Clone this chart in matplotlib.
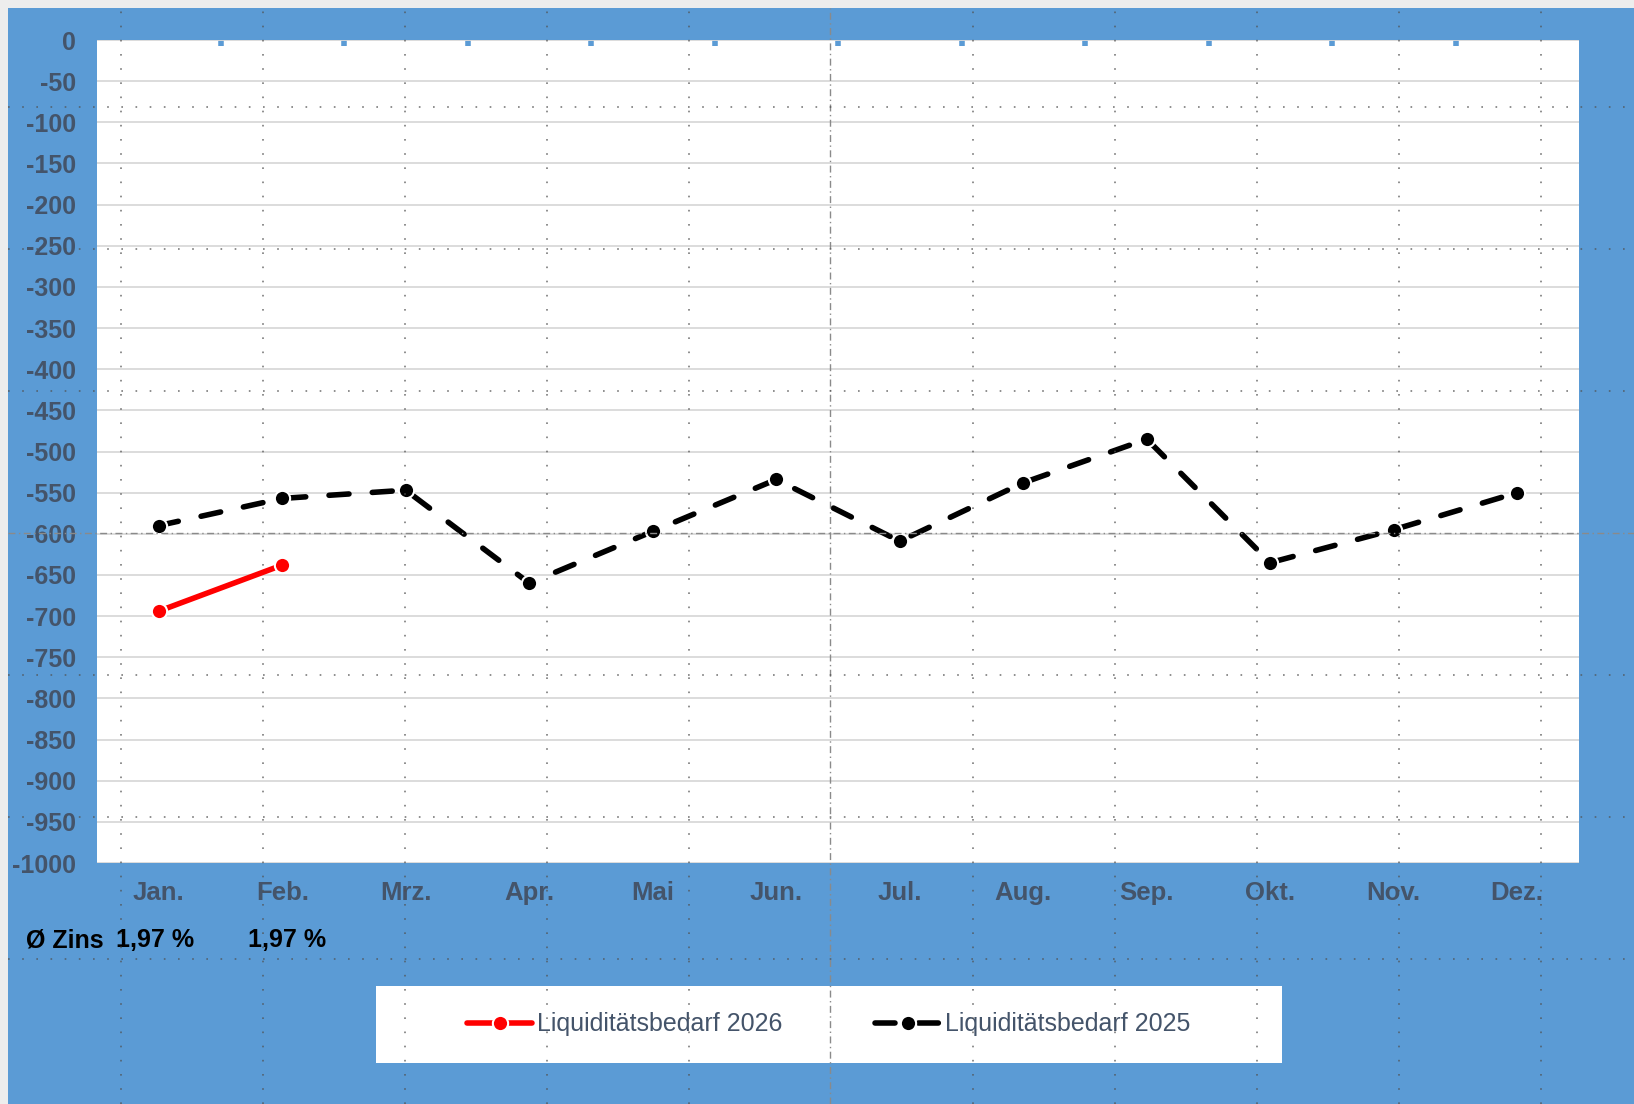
import matplotlib
matplotlib.use("Agg")
import matplotlib.pyplot as plt
from matplotlib.lines import Line2D
from matplotlib.patches import Rectangle
from matplotlib.transforms import blended_transform_factory
import numpy as np

# ---- data ----
months = ["Jan.", "Feb.", "Mrz.", "Apr.", "Mai", "Jun.", "Jul.", "Aug.", "Sep.", "Okt.", "Nov.", "Dez."]
liq_2025 = [-590, -557, -547, -660, -597, -534, -609, -538, -485, -635, -595, -550]
liq_2026 = [-694, -638]
zins_labels = ["1,97 %", "1,97 %"]
y_ticks = list(range(0, -1001, -50))

plt.rcParams["font.family"] = ["Liberation Sans", "DejaVu Sans"]

W, H = 1634, 1104
fig = plt.figure(figsize=(W / 100, H / 100), dpi=100)
fig.patch.set_facecolor("#ededed")


def fx(px):
    return px / W


def fy(py):
    return 1 - py / H


BLUE = "#5b9bd5"
TXT = "#44546a"

fig.add_artist(Rectangle((fx(8), 0), 1 - fx(8), fy(8), transform=fig.transFigure,
                         facecolor=BLUE, edgecolor="none", zorder=-10))

ax = fig.add_axes([fx(97), fy(863), fx(1579) - fx(97), (863 - 40) / H])
ax.set_facecolor("white")
x = np.arange(len(months))

l25, = ax.plot(x, liq_2025, color="black", lw=4.0, dashes=(3.6, 4.2), dash_capstyle="round",
               marker="o", ms=11, mfc="black", mec="white", mew=1.5, zorder=3,
               label="Liquiditätsbedarf 2025")
l26, = ax.plot(x[:len(liq_2026)], liq_2026, color="#ff0000", lw=4.0, solid_capstyle="round",
               marker="o", ms=11, mfc="#ff0000", mec="white", mew=1.5, zorder=4,
               label="Liquiditätsbedarf 2026")

ax.set_xlim(-0.5, len(months) - 0.5)
ax.set_ylim(-1000, 0)
ax.set_yticks(y_ticks)
ax.set_yticklabels([str(v) for v in y_ticks])
ax.tick_params(axis="y", length=0, pad=15, labelsize=18, labelcolor=TXT)
ax.set_xticks(x, months)
ax.tick_params(axis="x", which="major", length=0, pad=13, labelsize=18.5, labelcolor=TXT)
for lbl in ax.get_yticklabels() + ax.get_xticklabels():
    lbl.set_fontweight("bold")
ax.set_xticks(np.arange(0.5, len(months) - 1, 1.0), minor=True)
ax.tick_params(axis="x", which="minor", bottom=False, top=True, direction="in",
               length=4, width=4, color=BLUE)
ax.yaxis.grid(True, color="#d9d9d9", lw=1.3)
ax.set_axisbelow(True)
for s in ax.spines.values():
    s.set_visible(False)

# average interest row
fig.text(fx(26), fy(940), "Ø Zins", fontsize=18, fontweight="bold", color="black",
         ha="left", va="center")
bt = blended_transform_factory(ax.transData, fig.transFigure)
for i, z in enumerate(zins_labels):
    fig.text(i + (-0.03 if i == 0 else 0.04), fy(940), z, transform=bt, fontsize=18,
             fontweight="bold", color="black", ha="center", va="center")

# legend
fig.add_artist(Rectangle((fx(376), fy(1063)), fx(1282) - fx(376), (1063 - 986) / H,
                         transform=fig.transFigure, facecolor="white", edgecolor="none", zorder=1))
leg = fig.legend([l26, l25], [l26.get_label(), l25.get_label()], loc="center",
                 bbox_to_anchor=(fx((376 + 1282) / 2), fy((986 + 1063) / 2)), ncol=2,
                 frameon=False, fontsize=18, handlelength=2.6, handletextpad=0.2,
                 columnspacing=3.7, numpoints=1, labelcolor=TXT)
leg.set_zorder(2)

# screenshot overlay grid (dotted) and centre crosshair
dot_kw = dict(transform=fig.transFigure, color="#505050", lw=1.2, dashes=(1, 7.5), alpha=0.75, zorder=5)
for k in range(11):
    px = 121 + 142 * k
    if k == 5:
        fig.add_artist(Line2D([fx(830), fx(830)], [0, fy(8)], transform=fig.transFigure,
                              color="#8a8a8a", lw=1.0, dashes=(5, 2.5, 1, 2.5), zorder=5))
    else:
        fig.add_artist(Line2D([fx(px), fx(px)], [0, fy(8)], **dot_kw))
for k in range(7):
    py = 107 + 142 * k
    if k == 3:
        fig.add_artist(Line2D([fx(8), 1], [fy(533), fy(533)], transform=fig.transFigure,
                              color="#8a8a8a", lw=1.0, dashes=(5, 2.5, 1, 2.5), zorder=5))
    else:
        fig.add_artist(Line2D([fx(8), 1], [fy(py), fy(py)], **dot_kw))

fig.savefig("out.png", dpi=100, facecolor=fig.get_facecolor())
